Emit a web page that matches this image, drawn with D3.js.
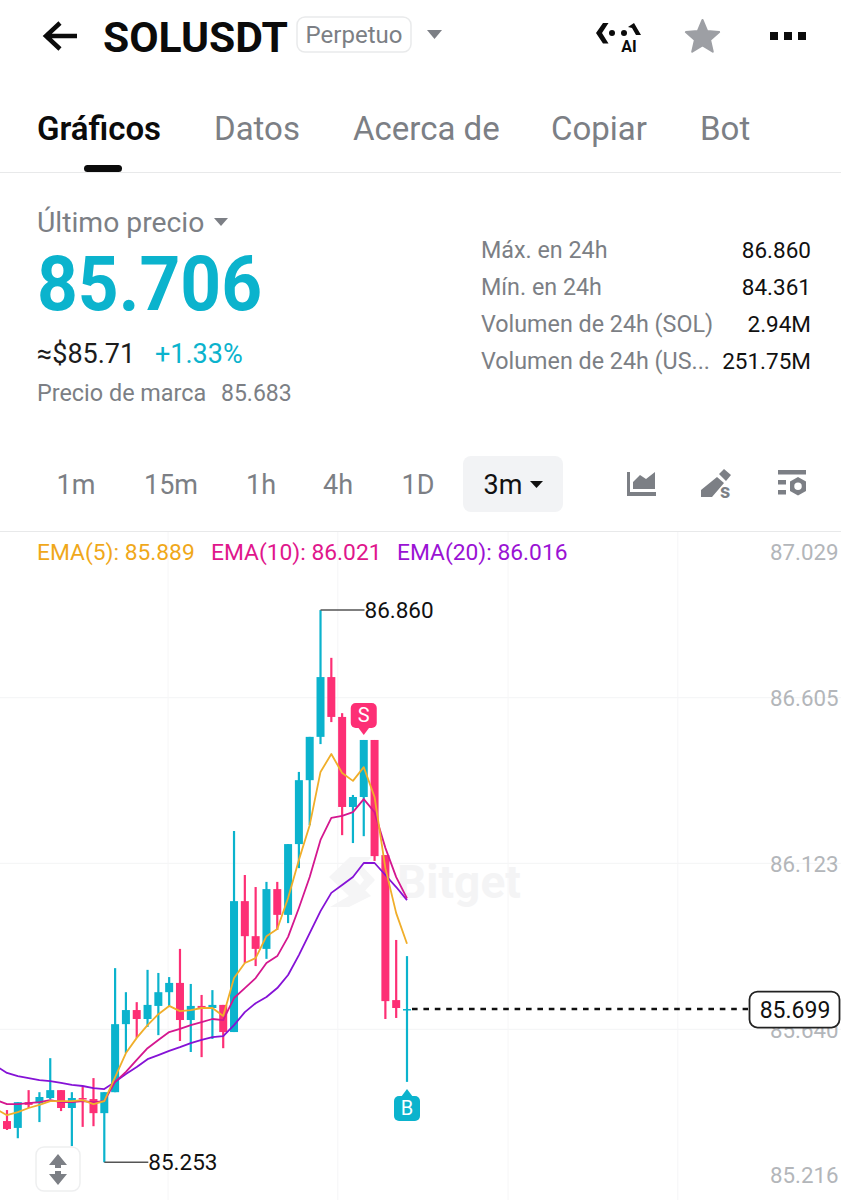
<!DOCTYPE html>
<html>
<head>
<meta charset="utf-8">
<style>
  html, body { margin: 0; padding: 0; background: #fff; }
  svg { display: block; }
  text { font-family: Roboto, sans-serif; }
</style>
<script src="https://cdn.jsdelivr.net/npm/d3@7"></script>
</head>
<body>
<svg id="chart" width="841" height="1200"></svg>
<script>
// candle values, left to right
const opens  = [85.373,85.353,85.428,85.425,85.440,85.463,85.411,85.440,85.437,85.396,85.457,85.655,85.696,85.670,85.708,85.748,85.775,85.667,85.708,85.702,85.711,85.632,86.013,85.911,85.874,86.048,85.973,86.179,86.365,86.491,86.665,86.549,86.287,86.316,86.482,86.147,85.725,85.696];
const highs  = [85.405,85.428,85.463,85.457,85.556,85.463,85.457,85.472,85.498,85.457,85.818,85.748,85.719,85.813,85.804,85.792,85.874,85.772,85.740,85.754,85.711,86.217,86.089,86.054,86.069,86.069,86.179,86.389,86.491,86.860,86.721,86.560,86.322,86.482,86.482,86.147,85.900,85.853];
const lows   = [85.347,85.323,85.411,85.370,85.437,85.402,85.300,85.356,85.358,85.253,85.457,85.571,85.615,85.647,85.623,85.705,85.606,85.574,85.559,85.612,85.585,85.632,85.833,85.824,85.845,85.929,85.949,86.109,86.234,86.470,86.534,86.205,86.182,86.202,86.130,85.670,85.673,85.487];
const closes = [85.350,85.428,85.420,85.443,85.463,85.411,85.440,85.437,85.396,85.457,85.655,85.696,85.670,85.711,85.748,85.775,85.667,85.708,85.702,85.711,85.632,86.013,85.911,85.874,86.048,85.973,86.179,86.365,86.491,86.665,86.549,86.287,86.316,86.482,86.144,85.722,85.702,85.699];

// EMA values start one candle before the first visible one
const ema5  = [85.408,85.390,85.399,85.411,85.420,85.431,85.431,85.431,85.434,85.422,85.431,85.501,85.571,85.615,85.652,85.684,85.708,85.693,85.696,85.702,85.702,85.679,85.789,85.833,85.847,85.911,85.932,86.022,86.133,86.234,86.389,86.441,86.386,86.363,86.403,86.316,86.109,85.978,85.889];
const ema10 = [85.434,85.422,85.422,85.425,85.428,85.434,85.428,85.428,85.431,85.428,85.431,85.487,85.516,85.551,85.585,85.609,85.632,85.641,85.652,85.661,85.670,85.667,85.731,85.760,85.789,85.833,85.853,85.909,85.993,86.083,86.191,86.255,86.261,86.272,86.310,86.272,86.168,86.083,86.021];
const ema20 = [85.533,85.513,85.504,85.498,85.492,85.489,85.484,85.478,85.475,85.469,85.466,85.487,85.510,85.530,85.553,85.565,85.577,85.588,85.600,85.609,85.617,85.620,85.652,85.690,85.716,85.734,85.760,85.798,85.856,85.920,85.984,86.037,86.060,86.083,86.124,86.124,86.089,86.054,86.016];

const priceTicks = [87.029, 86.605, 86.123, 85.640, 85.216];
const gridPrices = [86.605, 86.123, 85.640];
const gridTimes = [14.9, 30.6, 46.35, 62.05];   // candle index of each vertical grid line
const lastPrice = 85.699;
const highPrice = 86.860, highIndex = 29;
const lowPrice = 85.253, lowIndex = 9;
const sellIndex = 33, buyIndex = 37;

const headTabs = ["Gráficos", "Datos", "Acerca de", "Copiar", "Bot"];
const headTabX = [37, 214, 353, 551, 700];
const statLabels = ["Máx. en 24h", "Mín. en 24h", "Volumen de 24h (SOL)", "Volumen de 24h (US..."];
const statValues = ["86.860", "84.361", "2.94M", "251.75M"];
const periods = ["1m", "15m", "1h", "4h", "1D"];
const periodX = [76, 171, 261, 338, 418];
const emaLabels = ["EMA(5): 85.889", "EMA(10): 86.021", "EMA(20): 86.016"];
const emaLabelX = [37, 211, 397];

const teal = "#0bb3cd", pink = "#fd2f75";
const grey = "#7c7f85", light = "#b3b6ba";
const emaColors = ["#f0ae2a", "#d4178f", "#8512d6"];
const emaText = ["#f0a81a", "#e0168c", "#9a12d4"];

const svg = d3.select("#chart");

function label(x, y, str, size, fill, opts = {}) {
  return svg.append("text")
    .attr("x", x).attr("y", y)
    .attr("font-size", size)
    .attr("fill", fill)
    .attr("font-weight", opts.weight || 400)
    .attr("text-anchor", opts.anchor || "start")
    .text(str);
}

// ── Header ──
svg.append("path")
  .attr("d", "M77 36H47M60 23L46 36L60 49")
  .attr("fill", "none").attr("stroke", "#0b0b0b").attr("stroke-width", 4.5);
label(103, 52, "SOLUSDT", 42, "#0b0b0b", { weight: 700 })
  .attr("textLength", 185).attr("lengthAdjust", "spacingAndGlyphs");
svg.append("rect").attr("x", 297).attr("y", 17).attr("width", 114).attr("height", 35).attr("rx", 8)
  .attr("fill", "#fff").attr("stroke", "#e9eaeb").attr("stroke-width", 1.5);
label(354, 43, "Perpetuo", 24, grey, { anchor: "middle" });
svg.append("path").attr("d", "M427 30H442L434.5 39Z").attr("fill", grey);

// AI icon
svg.append("path").attr("d", "M603 23H608.5L602 33L608.5 43.5H603L596 33Z").attr("fill", "#0b0b0b");
svg.append("circle").attr("cx", 612).attr("cy", 33).attr("r", 3).attr("fill", "#0b0b0b");
svg.append("circle").attr("cx", 624).attr("cy", 33).attr("r", 3).attr("fill", "#0b0b0b");
svg.append("path").attr("d", "M628 27L634 23L641 35H636L632 28Z").attr("fill", "#0b0b0b");
label(629, 52, "AI", 16, "#0b0b0b", { anchor: "middle", weight: 700 });

// star
const starPts = d3.range(10).map(i => {
  const r = i % 2 ? 8 : 17.5, a = -Math.PI / 2 + i * Math.PI / 5;
  return [702.5 + r * Math.cos(a), 37.5 + r * Math.sin(a)];
});
svg.append("path").attr("d", d3.line()(starPts) + "Z")
  .attr("fill", "#9d9fa4").attr("stroke", "#9d9fa4").attr("stroke-width", 2).attr("stroke-linejoin", "round");

// more dots
svg.selectAll("rect.more").data([770, 784, 798]).enter().append("rect")
  .attr("class", "more").attr("x", d => d).attr("y", 32).attr("width", 8).attr("height", 8)
  .attr("fill", "#0b0b0b");

// tabs
headTabs.forEach((t, i) => {
  label(headTabX[i], 140, t, 33, i === 0 ? "#0b0b0b" : grey, { weight: i === 0 ? 600 : 400 });
});
svg.append("rect").attr("x", 84).attr("y", 165).attr("width", 38).attr("height", 7).attr("rx", 3.5).attr("fill", "#0b0b0b");
svg.append("line").attr("x1", 0).attr("x2", 841).attr("y1", 172.5).attr("y2", 172.5).attr("stroke", "#e8e9ea");

// ── Price block ──
label(37, 232, "Último precio", 28.3, grey);
svg.append("path").attr("d", "M214 218H228L221 226Z").attr("fill", grey);
label(37, 310, "85.706", 76, teal, { weight: 700 })
  .attr("textLength", 225).attr("lengthAdjust", "spacingAndGlyphs");
label(37, 363, "≈$85.71", 27, "#1c1c1c");
label(155, 363, "+1.33%", 27, teal);
label(37, 401, "Precio de marca", 23.4, grey);
label(221, 401, "85.683", 23, grey);

statLabels.forEach((t, i) => {
  const yy = 258 + i * 37;
  label(481, yy, t, 23.3, grey);
  label(811, yy, statValues[i], 22.5, "#111", { anchor: "end" });
});

// ── Period bar ──
periods.forEach((p, i) => label(periodX[i], 494, p, 27, grey, { anchor: "middle" }));
svg.append("rect").attr("x", 463).attr("y", 456).attr("width", 100).attr("height", 56).attr("rx", 8).attr("fill", "#f2f3f5");
label(503, 494, "3m", 27, "#111", { anchor: "middle" });
svg.append("path").attr("d", "M530 481H543L536.5 488Z").attr("fill", "#111");

// area chart icon
svg.append("path").attr("d", "M627 472H630V492H656V496H627Z M633 489V482L640 475L646 479L655 472V489Z").attr("fill", grey);
// pencil icon
svg.append("path").attr("d", "M701 490V497H712L724 483L717 477Z M719 474L724 469L731 475L726 481Z").attr("fill", grey);
label(720, 498, "s", 20, grey, { weight: 700 });
// settings icon
svg.append("path").attr("d", "M778 470H806V474.5H778Z M778 480H786V484.5H778Z M778 490H786V494.5H778Z").attr("fill", grey);
svg.append("path")
  .attr("fill-rule", "evenodd")
  .attr("d", "M798 477L806 481.5V491L798 495.5L790 491V481.5Z M798 482.5A3.7 3.7 0 1 0 798 490A3.7 3.7 0 1 0 798 482.5Z")
  .attr("fill", grey);

svg.append("line").attr("x1", 0).attr("x2", 841).attr("y1", 531.5).attr("y2", 531.5).attr("stroke", "#e8e9ea");

// ── Chart scales ──
const x = d3.scaleLinear().domain([0, 37]).range([7, 407]);
const y = d3.scaleLinear().domain([85.216, 87.029]).range([1175, 552]);

const defs = svg.append("defs");
defs.append("clipPath").attr("id", "plot").append("rect")
  .attr("x", 0).attr("y", 532).attr("width", 841).attr("height", 668);

// grid
svg.append("g").selectAll("line").data(gridPrices).enter().append("line")
  .attr("x1", 0).attr("x2", 841)
  .attr("y1", d => y(d)).attr("y2", d => y(d))
  .attr("stroke", "#f3f4f5");
svg.append("g").selectAll("line").data(gridTimes).enter().append("line")
  .attr("x1", d => x(d)).attr("x2", d => x(d))
  .attr("y1", 532).attr("y2", 1200)
  .attr("stroke", "#f6f6f7");

// watermark
const mark = svg.append("g");
mark.append("path").attr("d", "M350 857H372L352 877L371 896L349 907H330L349 896L329 877Z M362 866L375 880L358 898H350L364 880L354 866Z").attr("fill", "#f5f5f6");
mark.append("text").attr("x", 397).attr("y", 898).attr("font-size", 46).attr("font-weight", 700).attr("fill", "#f4f4f5").text("Bitget");

// right axis
const yAxis = d3.axisRight(y).tickValues(priceTicks).tickSize(0).tickPadding(0).tickFormat(d3.format(".3f"));
const axisG = svg.append("g").attr("transform", "translate(770,0)").call(yAxis);
axisG.select(".domain").remove();
axisG.selectAll("text")
  .attr("font-family", "Roboto, sans-serif")
  .attr("font-size", 22.3)
  .attr("fill", light)
  .attr("dy", "0.35em");

// legend
emaLabels.forEach((t, i) => label(emaLabelX[i], 560, t, 22.8, emaText[i]));

// candles
const candles = opens.map((o, i) => ({ i, o, h: highs[i], l: lows[i], c: closes[i] }));
const plot = svg.append("g").attr("clip-path", "url(#plot)");
const bars = plot.selectAll("g.candle").data(candles).enter().append("g").attr("class", "candle");
const colorOf = d => d.c >= d.o ? teal : pink;
bars.append("line")
  .attr("x1", d => x(d.i)).attr("x2", d => x(d.i))
  .attr("y1", d => y(d.h)).attr("y2", d => y(d.l))
  .attr("stroke", colorOf).attr("stroke-width", 2.2);
bars.append("rect")
  .attr("x", d => x(d.i) - 4).attr("width", 8)
  .attr("y", d => y(Math.max(d.o, d.c)))
  .attr("height", d => Math.max(1.5, Math.abs(y(d.o) - y(d.c))))
  .attr("fill", colorOf);

// EMA lines
const emaLine = d3.line().x((d, i) => x(i - 1)).y(d => y(d));
[ema20, ema10, ema5].forEach((s, k) => {
  plot.append("path").datum(s)
    .attr("d", emaLine)
    .attr("fill", "none")
    .attr("stroke", emaColors[2 - k])
    .attr("stroke-width", 1.8)
    .attr("stroke-linejoin", "round");
});

// last price line and box
svg.append("line")
  .attr("x1", x(37) + 5).attr("x2", 748)
  .attr("y1", y(lastPrice)).attr("y2", y(lastPrice))
  .attr("stroke", "#111").attr("stroke-width", 2.4).attr("stroke-dasharray", "5.6 5.8");
svg.append("rect")
  .attr("x", 749.5).attr("y", y(lastPrice) - 17.5).attr("width", 90).attr("height", 36).attr("rx", 8)
  .attr("fill", "#fff").attr("stroke", "#222").attr("stroke-width", 1.8);
label(795, y(lastPrice) + 9, d3.format(".3f")(lastPrice), 23, "#111", { anchor: "middle" });

// high and low callouts
[[highIndex, highPrice], [lowIndex, lowPrice]].forEach(([i, p]) => {
  svg.append("line")
    .attr("x1", x(i)).attr("x2", x(i) + 44)
    .attr("y1", y(p)).attr("y2", y(p))
    .attr("stroke", "#555").attr("stroke-width", 1.4);
  label(x(i) + 44, y(p) + 8, d3.format(".3f")(p), 22.5, "#111");
});

// S and B markers
function marker(cx, top, letter, fill, up) {
  const g = svg.append("g");
  g.append("rect").attr("x", cx - 13).attr("y", top).attr("width", 26).attr("height", 25).attr("rx", 5).attr("fill", fill);
  const tip = up ? `M${cx - 6} ${top + 1}L${cx} ${top - 7}L${cx + 6} ${top + 1}Z`
                 : `M${cx - 6} ${top + 24}L${cx} ${top + 32}L${cx + 6} ${top + 24}Z`;
  g.append("path").attr("d", tip).attr("fill", fill);
  g.append("text").attr("x", cx).attr("y", top + 19).attr("text-anchor", "middle")
    .attr("font-size", 20).attr("fill", "#fff").text(letter);
}
marker(x(sellIndex), 703, "S", pink, false);
marker(x(buyIndex), 1096, "B", teal, true);

// scale toggle button
svg.append("rect").attr("x", 36).attr("y", 1147).attr("width", 44).attr("height", 44).attr("rx", 8)
  .attr("fill", "#fff").attr("stroke", "#eeeff0").attr("stroke-width", 1.5);
svg.append("path").attr("d", "M58 1154L67 1165H61V1168H55V1165H49Z M58 1185L67 1174H61V1171H55V1174H49Z").attr("fill", grey);
</script>
</body>
</html>
